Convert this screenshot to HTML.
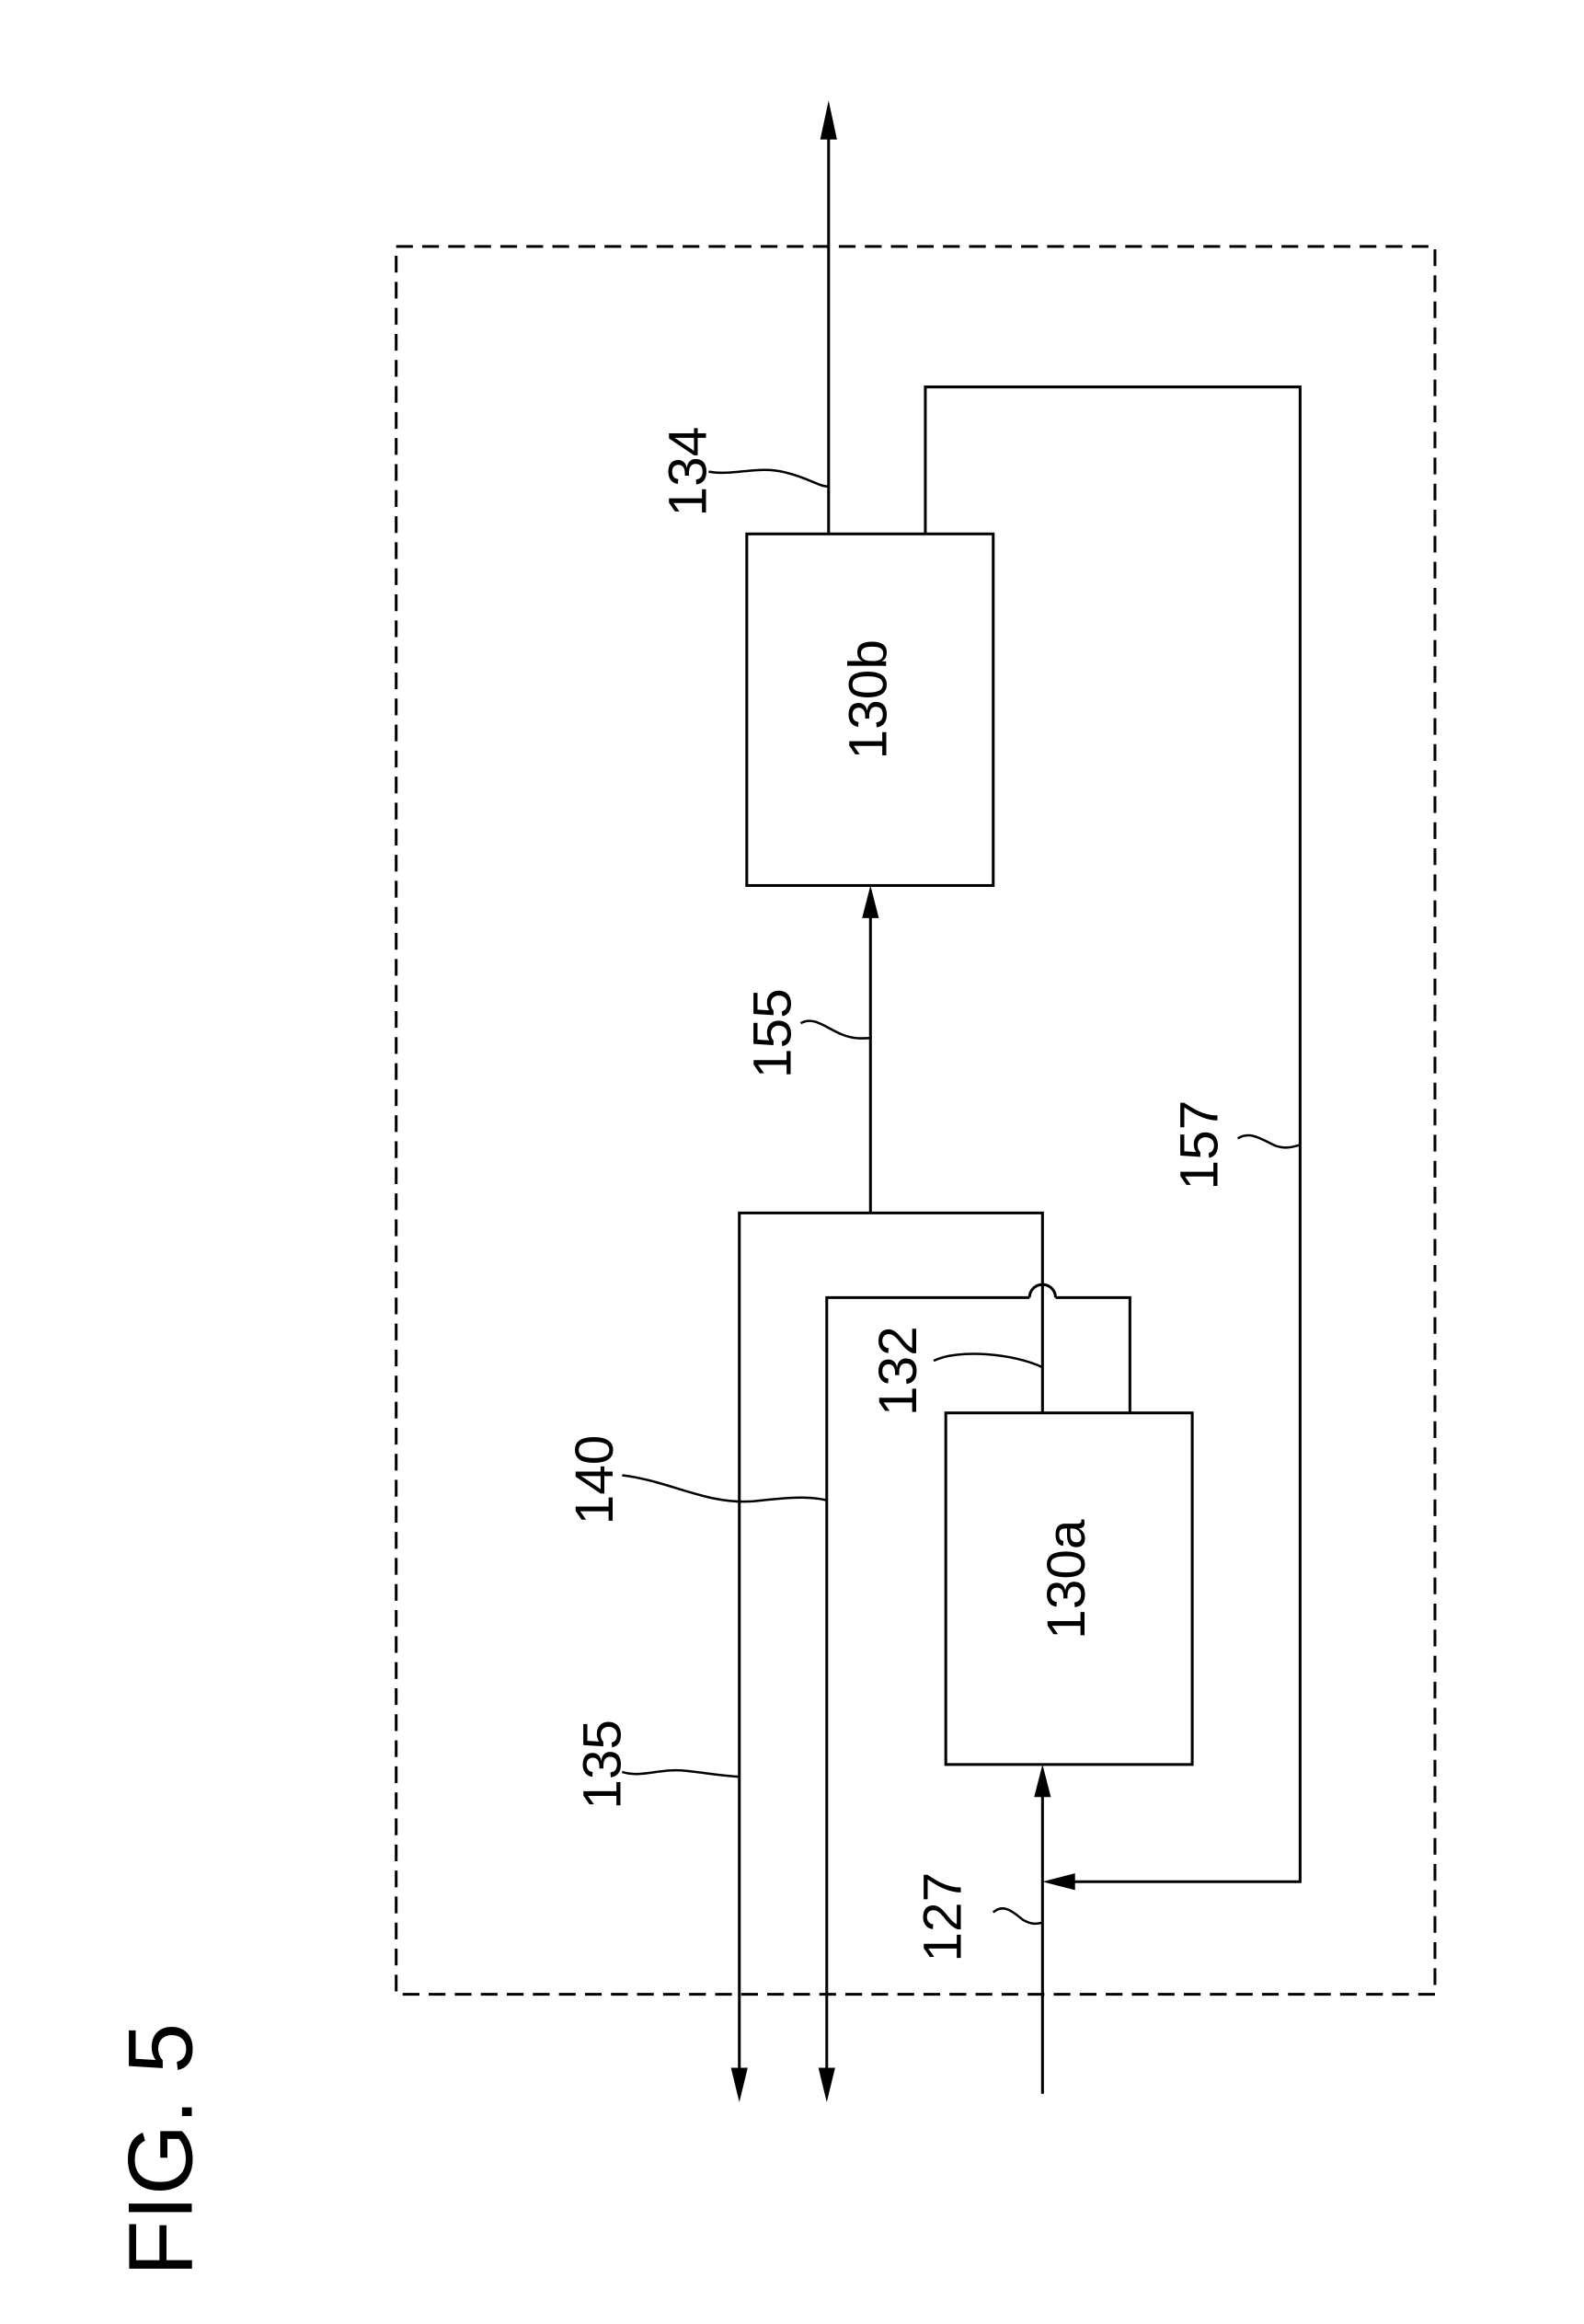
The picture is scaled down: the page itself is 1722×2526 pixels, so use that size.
<!DOCTYPE html>
<html><head><style>html,body{margin:0;padding:0;background:#fff}svg{display:block}</style></head>
<body>
<svg width="1722" height="2526" viewBox="0 0 1722 2526" xmlns="http://www.w3.org/2000/svg">
<g transform="scale(1.011)">
<g fill="none" stroke="#000" stroke-width="3">
<rect x="426" y="265" width="1117" height="1879" stroke-dasharray="18,10"/>
<rect x="803" y="574" width="265" height="378"/>
<rect x="1017" y="1519" width="265" height="378"/>
<line x1="891" y1="574" x2="891" y2="140"/>
<polyline points="995,574 995,416 1398,416 1398,2023 1150,2023"/>
<line x1="1121" y1="2251" x2="1121" y2="1930"/>
<polyline points="795,2225 795,1304 1121,1304 1121,1519"/>
<line x1="936" y1="1304" x2="936" y2="985"/>
<polyline points="889,2225 889,1395 1107,1395"/>
<path d="M1107,1395 A14,14 0 0 1 1135,1395"/>
<polyline points="1135,1395 1215,1395 1215,1519"/>
<path d="M762,507 C790,512 815,500 845,508 C870,514 880,523 891,523" stroke-width="2.5"/>
<path d="M861,1100 C875,1092 888,1105 905,1112 C920,1118 928,1116 936,1116" stroke-width="2.5"/>
<path d="M1331,1224 C1345,1215 1358,1226 1372,1232 C1385,1236 1392,1232 1398,1231" stroke-width="2.5"/>
<path d="M1004,1463 C1030,1450 1090,1455 1121,1470" stroke-width="2.5"/>
<path d="M669,1586 C720,1592 760,1618 810,1614 C845,1610 870,1608 889,1613" stroke-width="2.5"/>
<path d="M669,1905 C690,1912 710,1900 740,1904 C765,1907 785,1910 795,1910" stroke-width="2.5"/>
<path d="M1068,2056 C1080,2045 1092,2058 1100,2064 C1110,2070 1116,2068 1121,2067" stroke-width="2.5"/>
</g>
<g fill="#000">
<polygon points="891,108 882,150 900,150"/>
<polygon points="936,952 927,987 945,987"/>
<polygon points="1121,1897 1112,1932 1130,1932"/>
<polygon points="1121,2023 1156,2014 1156,2032"/>
<polygon points="795,2260 786,2223 804,2223"/>
<polygon points="889,2260 880,2223 898,2223"/>
</g>
<g font-family="Liberation Sans, sans-serif" font-size="58" fill="#000" text-anchor="middle">
<text transform="translate(759,507) rotate(-90)">134</text>
<text transform="translate(953,752) rotate(-90)">130b</text>
<text transform="translate(850,1111) rotate(-90)">155</text>
<text transform="translate(1309,1231) rotate(-90)">157</text>
<text transform="translate(985,1474) rotate(-90)">132</text>
<text transform="translate(659,1591) rotate(-90)">140</text>
<text transform="translate(1166,1698) rotate(-90)">130a</text>
<text transform="translate(667,1897) rotate(-90)">135</text>
<text transform="translate(1033,2061) rotate(-90)">127</text>
<text transform="translate(206,2311) rotate(-90)" font-size="98">FIG. 5</text>
</g>
</g>
</svg>
</body></html>
